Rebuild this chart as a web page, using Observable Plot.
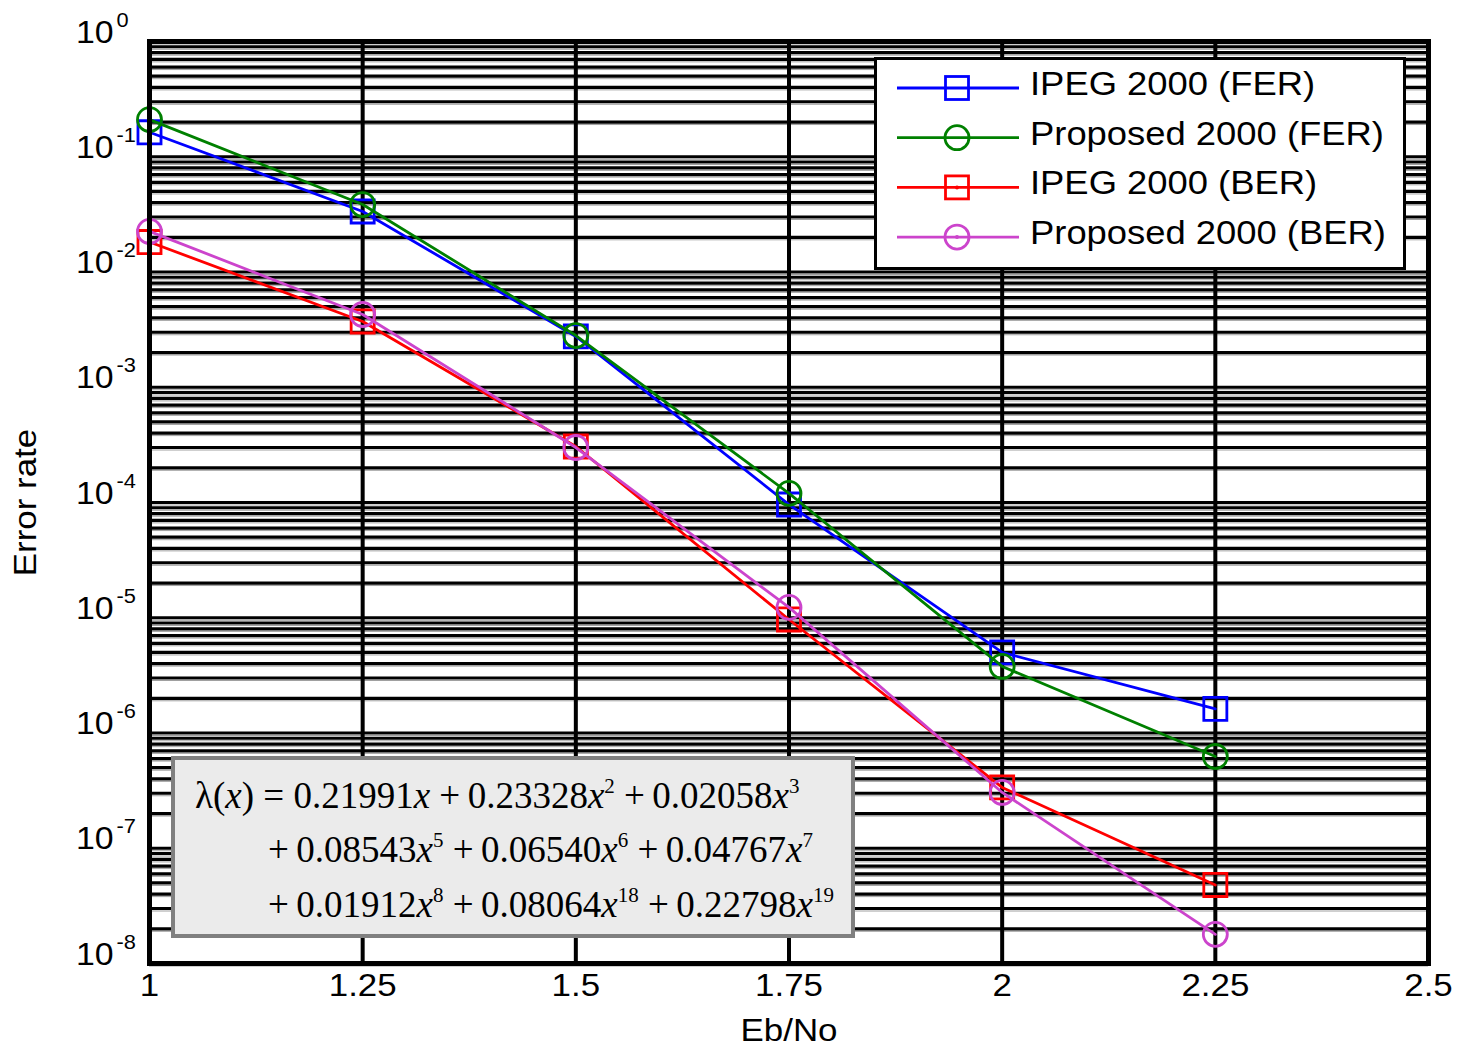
<!DOCTYPE html>
<html><head><meta charset="utf-8">
<script src="https://cdn.jsdelivr.net/npm/d3@7"></script>
<script src="https://cdn.jsdelivr.net/npm/@observablehq/plot@0.6"></script>
<style>
body{margin:0;background:#fff;}
#wrap{position:relative;width:1457px;height:1045px;font-family:"Liberation Sans",Arial,sans-serif;}
#wrap > svg{position:absolute;left:0;top:0;}
</style></head><body><div id="wrap"></div>
<script>
// ---- data ----
const ebno = [1, 1.25, 1.5, 1.75, 2, 2.25];
const ipegFER = [0.163, 0.0335, 0.00276, 9.6e-5, 5.0e-6, 1.62e-6];
const propFER = [0.21, 0.0385, 0.00281, 1.2e-4, 3.78e-6, 6.25e-7];
const ipegBER = [0.0182, 0.00372, 3.06e-4, 9.66e-6, 3.37e-7, 4.8e-8];
const propBER = [0.0225, 0.00428, 3.0e-4, 1.23e-5, 3.05e-7, 1.79e-8];
const seriesNames = ["IPEG 2000 (FER)", "Proposed 2000 (FER)", "IPEG 2000 (BER)", "Proposed 2000 (BER)"];
const seriesColors = ["#0000ff", "#008000", "#ff0000", "#cc44cc"];
const seriesSymbols = ["square", "circle", "square", "circle"];
const seriesCenterDot = [false, false, true, true];
const xTicks = [1, 1.25, 1.5, 1.75, 2, 2.25, 2.5];
const xTickLabels = ["1", "1.25", "1.5", "1.75", "2", "2.25", "2.5"];
const yExponents = [0, -1, -2, -3, -4, -5, -6, -7, -8];
const xLabel = "Eb/No";
const yLabel = "Error rate";
const eqCoefs = [["0.21991", "0.23328", "0.02058"], ["0.08543", "0.06540", "0.04767"], ["0.01912", "0.08064", "0.22798"]];
const eqPowers = [[1, 2, 3], [5, 6, 7], [8, 18, 19]];

// ---- derived tables ----
const seriesValues = [ipegFER, propFER, ipegBER, propBER];
const rows = seriesValues.flatMap((vals, s) => ebno.map((x, i) => ({x, y: vals[i], s})));
const gridY = [1];
for (const e of yExponents) { if (e === 0) continue; for (let k = 1; k <= 9; k++) gridY.push(k * Math.pow(10, e)); }

const marks = [
  Plot.ruleY(gridY, {y: d => d, stroke: "#a0a0a0", strokeWidth: 1, dy: 2.5}),
  Plot.ruleY(gridY, {y: d => d, stroke: "#000", strokeWidth: 3.2}),
  Plot.ruleX(xTicks, {x: d => d, stroke: "#000", strokeWidth: 4})
];
seriesValues.forEach((_, s) => {
  const d = rows.filter(r => r.s === s);
  marks.push(Plot.line(d, {x: "x", y: "y", stroke: seriesColors[s], strokeWidth: 2.8}));
  marks.push(Plot.dot(d, {x: "x", y: "y", symbol: seriesSymbols[s], r: seriesSymbols[s] === "square" ? 13 : 12, stroke: seriesColors[s], strokeWidth: 2.8, fill: "none"}));
});
marks.push(Plot.frame({stroke: "#000", strokeWidth: 5}));
marks.push(Plot.text(xTicks, {x: d => d, text: (d, i) => xTickLabels[i], frameAnchor: "bottom", textAnchor: "middle", lineAnchor: "top", dy: 10, fontSize: 32, fill: "#000"}));
marks.push(Plot.text(yExponents, {y: e => Math.pow(10, e), text: () => "10", frameAnchor: "left", textAnchor: "end", lineAnchor: "bottom", dx: -36, dy: 1, fontSize: 31, fill: "#000"}));
marks.push(Plot.text(yExponents, {y: e => Math.pow(10, e), text: e => String(e), frameAnchor: "left", textAnchor: "start", lineAnchor: "bottom", dx: -33, dy: -15, fontSize: 20, fill: "#000"}));
marks.push(Plot.text([xLabel], {text: d => d, frameAnchor: "bottom", textAnchor: "middle", lineAnchor: "bottom", dy: 77, fontSize: 32, fill: "#000"}));
marks.push(Plot.text([yLabel], {text: d => d, frameAnchor: "left", textAnchor: "middle", dx: -124, rotate: -90, lineAnchor: "middle", fontSize: 32, fill: "#000"}));

const chart = Plot.plot({
  width: 1457, height: 1045,
  marginLeft: 149, marginRight: 29, marginTop: 41, marginBottom: 82,
  x: {type: "linear", domain: [1, 2.5], axis: null},
  y: {type: "log", domain: [1e-8, 1], axis: null},
  style: {fontFamily: "'Liberation Sans', Arial, sans-serif", color: "#000", background: "transparent", overflow: "visible"},
  marks
});
const wrap = document.getElementById("wrap");
wrap.appendChild(chart);

// the reference glyphs are slightly wider than Arial: stretch texts a little
function widen(sel, f) {
  sel.each(function () {
    const len = this.getComputedTextLength();
    if (len > 0) { this.setAttribute("textLength", (len * f).toFixed(1)); this.setAttribute("lengthAdjust", "spacingAndGlyphs"); }
  });
}
widen(d3.select(chart).selectAll("text"), 1.09);

// ---- legend (inside the axes, top right) ----
const leg = d3.select(wrap).append("svg")
  .attr("width", 532).attr("height", 213)
  .style("left", "874px").style("top", "57px");
leg.append("rect").attr("x", 1.5).attr("y", 1.5).attr("width", 529).attr("height", 210)
  .attr("fill", "#fff").attr("stroke", "#000").attr("stroke-width", 3);
seriesNames.forEach((name, i) => {
  const cy = 31 + i * 49.7;
  const g = leg.append("g");
  g.append("line").attr("x1", 23).attr("x2", 145).attr("y1", cy).attr("y2", cy)
    .attr("stroke", seriesColors[i]).attr("stroke-width", 2.8);
  if (seriesSymbols[i] === "square") {
    g.append("rect").attr("x", 83 - 11.5).attr("y", cy - 11.5).attr("width", 23).attr("height", 23)
      .attr("fill", "none").attr("stroke", seriesColors[i]).attr("stroke-width", 2.8);
  } else {
    g.append("circle").attr("cx", 83).attr("cy", cy).attr("r", 12)
      .attr("fill", "none").attr("stroke", seriesColors[i]).attr("stroke-width", 2.8);
  }
  if (seriesCenterDot[i]) g.append("circle").attr("cx", 83).attr("cy", cy).attr("r", 2).attr("fill", seriesColors[i]);
  g.append("text").attr("x", 156).attr("y", cy - 5).attr("dy", "0.35em")
    .attr("font-family", "'Liberation Sans', Arial, sans-serif").attr("font-size", 34).attr("fill", "#000")
    .text(name);
});
widen(leg.selectAll("text"), 1.07);

// ---- equation box ----
const eq = d3.select(wrap).append("svg")
  .attr("width", 684).attr("height", 182)
  .style("left", "171px").style("top", "756px");
eq.append("rect").attr("x", 2).attr("y", 2).attr("width", 680).attr("height", 178)
  .attr("fill", "#ebebeb").attr("stroke", "#808080").attr("stroke-width", 4);
const baselines = [52, 106, 161];
const starts = [24, 97, 97];
eqCoefs.forEach((line, li) => {
  const t = eq.append("text").attr("x", starts[li]).attr("y", baselines[li])
    .attr("font-family", "'Liberation Serif', 'Times New Roman', serif").attr("font-size", 37).attr("fill", "#000")
    .attr("xml:space", "preserve");
  let pendingDy = 0;
  const add = (txt, italic) => {
    const s = t.append("tspan").text(txt);
    if (italic) s.attr("font-style", "italic");
    if (pendingDy) { s.attr("dy", pendingDy); pendingDy = 0; }
    return s;
  };
  if (li === 0) { add("\u03bb("); add("x", true); add(") = "); }
  else add("+\u2009");
  line.forEach((c, j) => {
    if (j > 0) add(" +\u2009");
    add(c);
    add("x", true);
    const p = eqPowers[li][j];
    if (p !== 1) {
      add(String(p)).attr("dy", -15).attr("font-size", 21);
      pendingDy = 15;
    }
  });
});
</script></body></html>
